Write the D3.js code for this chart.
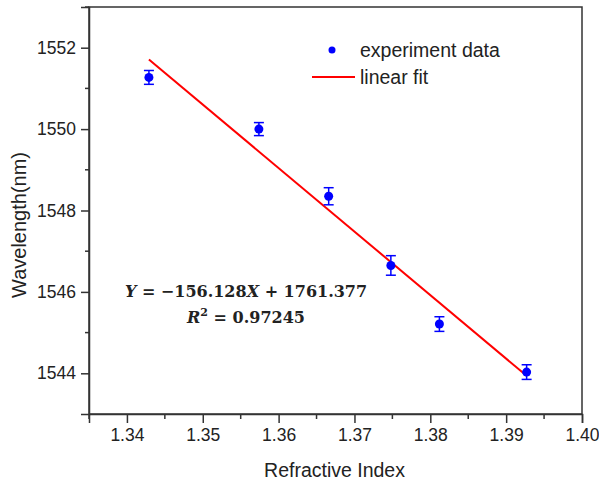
<!DOCTYPE html>
<html lang="en">
<head>
<meta charset="UTF-8">
<title>Wavelength vs Refractive Index</title>
<script src="https://cdn.jsdelivr.net/npm/d3@7"></script>
<style>
  body { margin: 0; background: #fff; }
  svg text { font-family: "Liberation Sans", Arial, sans-serif; fill: #222; }
</style>
</head>
<body>
<svg id="main" width="599" height="484"></svg>
<script>
// data
const refIndex   = [1.3429, 1.3574, 1.3666, 1.3748, 1.3812, 1.3927];
const wavelength = [1551.27, 1550.00, 1548.35, 1546.65, 1545.21, 1544.03];
const errBar     = [0.17, 0.16, 0.21, 0.24, 0.18, 0.18];
const xTicks = [1.34, 1.35, 1.36, 1.37, 1.38, 1.39, 1.40];
const yTicks = [1544, 1546, 1548, 1550, 1552];
const slope = -156.128, intercept = 1761.377, r2 = "0.97245";

let svg = d3.select('svg#main');
let margin = {left: 89, right: 17, top: 7, bottom: 70};
let width = 599 - margin.left - margin.right;
let height = 484 - margin.top - margin.bottom;

let x = d3.scaleLinear().domain([1.335, 1.40]).range([margin.left, margin.left + width]);
let y = d3.scaleLinear().domain([1543, 1553]).range([margin.top + height, margin.top]);

let data = refIndex.map((d, i) => ({x: d, y: wavelength[i], e: errBar[i]}));

// frame (top and right)
svg.append("rect")
    .attr("x", margin.left).attr("y", margin.top)
    .attr("width", width).attr("height", height)
    .attr("fill", "none").attr("stroke", "#333").attr("stroke-width", 1.5);

// minor ticks
let xMinor = d3.range(1.335, 1.4, 0.01);
let yMinor = [1545, 1547, 1549, 1551, 1553];
svg.append("g").selectAll("line").data(xMinor).enter().append("line")
    .attr("x1", d => x(d)).attr("x2", d => x(d))
    .attr("y1", margin.top + height).attr("y2", margin.top + height + 5)
    .attr("stroke", "#333").attr("stroke-width", 1.5);
svg.append("g").selectAll("line").data(yMinor).enter().append("line")
    .attr("y1", d => y(d)).attr("y2", d => y(d))
    .attr("x1", margin.left).attr("x2", margin.left - 4)
    .attr("stroke", "#333").attr("stroke-width", 1.5);

// axes
let xAxis = svg.append("g")
    .attr("transform", "translate(0," + (margin.top + height) + ")")
    .call(d3.axisBottom(x).tickValues(xTicks).tickFormat(d3.format(".2f")).tickSize(9).tickPadding(6));
let yAxis = svg.append("g")
    .attr("transform", "translate(" + margin.left + ",0)")
    .call(d3.axisLeft(y).tickValues(yTicks).tickFormat(d3.format("d")).tickSize(8).tickPadding(5));
[xAxis, yAxis].forEach(a => {
    a.select(".domain").attr("stroke", "#333").attr("stroke-width", 1.5);
    a.selectAll(".tick line").attr("stroke", "#333").attr("stroke-width", 1.5);
    a.selectAll(".tick text").style("font-size", "17.5px").attr("fill", "#222")
        .style("font-family", '"Liberation Sans", Arial, sans-serif');
});

// axis titles
svg.append("text")
    .attr("x", margin.left + width / 2 - 1).attr("y", 477)
    .attr("text-anchor", "middle").style("font-size", "19.5px")
    .text("Refractive Index");
svg.append("text")
    .attr("transform", "translate(26,225) rotate(-90)")
    .attr("text-anchor", "middle").style("font-size", "20px")
    .text("Wavelength(nm)");

// linear fit
let xs = d3.extent(refIndex);
svg.append("path")
    .datum(xs)
    .attr("d", d3.line().x(d => x(d)).y(d => y(slope * d + intercept)))
    .attr("fill", "none").attr("stroke", "#ff0000").attr("stroke-width", 2);

// error bars
let eb = svg.append("g").attr("stroke", "#0000ff").attr("stroke-width", 1.5);
eb.selectAll(".v").data(data).enter().append("line")
    .attr("x1", d => x(d.x)).attr("x2", d => x(d.x))
    .attr("y1", d => y(d.y - d.e)).attr("y2", d => y(d.y + d.e));
eb.selectAll(".t").data(data).enter().append("line")
    .attr("x1", d => x(d.x) - 5).attr("x2", d => x(d.x) + 5)
    .attr("y1", d => y(d.y + d.e)).attr("y2", d => y(d.y + d.e));
eb.selectAll(".b").data(data).enter().append("line")
    .attr("x1", d => x(d.x) - 5).attr("x2", d => x(d.x) + 5)
    .attr("y1", d => y(d.y - d.e)).attr("y2", d => y(d.y - d.e));

// points
svg.append("g").selectAll("circle").data(data).enter().append("circle")
    .attr("cx", d => x(d.x)).attr("cy", d => y(d.y))
    .attr("r", 4.5).attr("fill", "#0000ff");

// legend
let lg = svg.append("g");
lg.append("circle").attr("cx", 332).attr("cy", 50).attr("r", 3.5).attr("fill", "#0000ff");
lg.append("text").attr("x", 360).attr("y", 57).style("font-size", "19.5px").text("experiment data");
lg.append("line").attr("x1", 312).attr("x2", 355).attr("y1", 77).attr("y2", 77)
    .attr("stroke", "#ff0000").attr("stroke-width", 2);
lg.append("text").attr("x", 360).attr("y", 84).style("font-size", "19.5px").text("linear fit");

// equation
let eq = svg.append("g").style("font-weight", "bold").style("font-size", "16px");
let t1 = eq.append("text").attr("x", 246).attr("y", 297).attr("text-anchor", "middle")
    .style("font-family", '"DejaVu Serif", serif').attr("fill", "#111");
t1.append("tspan").style("font-style", "italic").text("Y");
t1.append("tspan").text(" = \u2212156.128");
t1.append("tspan").style("font-style", "italic").text("X");
t1.append("tspan").text(" + 1761.377");
let t2 = eq.append("text").attr("x", 246).attr("y", 323).attr("text-anchor", "middle")
    .style("font-family", '"DejaVu Serif", serif').attr("fill", "#111");
t2.append("tspan").style("font-style", "italic").text("R");
t2.append("tspan").attr("dy", -7).style("font-size", "11px").text("2");
t2.append("tspan").attr("dy", 7).text(" = " + r2);
</script>
</body>
</html>
